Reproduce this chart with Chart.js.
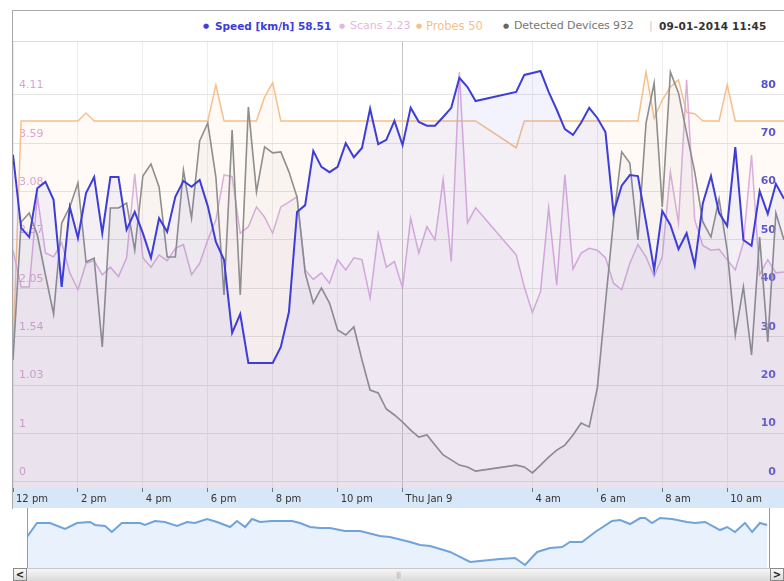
<!DOCTYPE html>
<html>
<head>
<meta charset="utf-8">
<script src="https://cdn.jsdelivr.net/npm/chart.js@4.4.0/dist/chart.umd.min.js"></script>
<style>
  html, body { margin: 0; padding: 0; background: #fff; }
  body { width: 784px; height: 581px; position: relative; overflow: hidden; font-family: 'DejaVu Sans', Verdana, sans-serif; }
  #frame { position: absolute; left: 12px; top: 10px; width: 772px; height: 498px; border-left: 1px solid #a8a8a8; border-top: 1px solid #a8a8a8; }
  #header { position: absolute; left: 13px; top: 11px; width: 771px; height: 30px; border-bottom: 1px solid #dcdcdc; }
  .h { position: absolute; top: 19px; line-height: 14px; white-space: nowrap; font-size: 11px; }
  .dot { position: absolute; top: 20px; line-height: 12px; font-size: 7px; }
  #main { position: absolute; left: 13px; top: 42px; }
  #nav { position: absolute; left: 27px; top: 508px; }
  #navFrame { position: absolute; left: 27px; top: 508px; width: 743px; height: 60px; box-sizing: border-box; border-left: 1px solid #9a9a9a; border-right: 1px solid #9a9a9a; }
  #scroll { position: absolute; left: 13px; top: 568px; width: 771px; height: 13px; box-sizing: border-box; border-top: 1px solid #c8c8c8; background: linear-gradient(#f6f6f6, #dadada); }
  .btn { position: absolute; top: 568px; width: 14px; height: 13px; box-sizing: border-box; border: 1px solid #8a8a8a; background: linear-gradient(#fafafa, #dcdcdc); font: bold 10px 'DejaVu Sans', sans-serif; line-height: 11px; text-align: center; color: #222; }
  #grip { position: absolute; left: 396px; top: 571px; font-size: 7px; color: #b0b0b0; letter-spacing: -1px; }
</style>
</head>
<body>
<div id="frame"></div>
<div id="header"></div>
<span class="dot" style="left:203px;color:#3d3dd9">&#9679;</span>
<b class="h" style="left:215px;color:#3d3dd9;font-size:10.5px">Speed [km/h] 58.51</b>
<span class="dot" style="left:339px;color:#e2b6e2">&#9679;</span>
<span class="h" style="left:350px;color:#e2b6e2">Scans 2.23</span>
<span class="dot" style="left:416px;color:#f6c08c">&#9679;</span>
<span class="h" style="left:426px;color:#f6c08c;font-size:11.5px">Probes 50</span>
<span class="dot" style="left:503px;color:#666">&#9679;</span>
<span class="h" style="left:514px;color:#777;font-size:11px;letter-spacing:-0.1px">Detected Devices 932</span>
<span class="h" style="left:649px;color:#c8c8c8">|</span>
<b class="h" style="left:659px;color:#333;font-size:10.5px;letter-spacing:0.2px">09-01-2014 11:45</b>
<canvas id="main" width="771" height="466"></canvas>
<canvas id="nav" width="742" height="60"></canvas>
<div id="navFrame"></div>
<div id="scroll"></div>
<div class="btn" style="left:13px">&lt;</div>
<div class="btn" style="left:770px">&gt;</div>
<div id="grip">|||</div>
<script>
// 15 minute samples, 8 Jan 12:00 -> 9 Jan 11:45
const times = Array.from({ length: 96 }, (_, i) => {
  const m = 12 * 60 + 15 * i;
  return String(Math.floor(m / 60) % 24).padStart(2, '0') + ':' + String(m % 60).padStart(2, '0');
});

const tickTimes = ['12:00', '14:00', '16:00', '18:00', '20:00', '22:00', '00:00', '04:00', '06:00', '08:00', '10:00'];
const tickLabels = ['12 pm', '2 pm', '4 pm', '6 pm', '8 pm', '10 pm', 'Thu Jan 9', '4 am', '6 am', '8 am', '10 am'];

const speedTicks = [0, 10, 20, 30, 40, 50, 60, 70, 80];
const scanTickValues = [0, 0.51, 1.03, 1.54, 2.05, 2.57, 3.08, 3.59, 4.11];
const scanTickLabels = ['0', '1', '1.03', '1.54', '2.05', '2.57', '3.08', '3.59', '4.11'];

const speed = [
  67.6, 52.5, 50.6, 60.7, 62.0, 58.3, 40.3, 56.8, 50.4, 59.7,
  63.0, 51.4, 63.0, 63.0, 52.1, 55.8, 51.4, 46.3, 54.5, 51.7,
  58.9, 62.2, 61.0, 62.4, 57.0, 49.6, 45.9, 30.8, 34.7, 24.6,
  24.6, 24.6, 24.6, 27.9, 35.1, 55.8, 57.2, 68.4, 65.1, 64.0,
  65.1, 70.0, 67.1, 69.0, 77.1, 69.8, 70.7, 74.6, 69.6, 77.3,
  74.4, 73.6, 73.6, 75.4, 77.3, 83.5, 81.6, 78.7, null, null,
  null, null, 80.6, 84.1, 84.5, 84.9, 80.6, 76.9, 72.9, 71.7,
  74.2, 77.3, 75.2, 72.3, 55.6, 61.2, 63.4, 63.2, 53.7, 43.8,
  56.0, 53.1, 48.1, 51.4, 44.8, 57.6, 63.2, 55.6, 52.9, 69.2,
  50.0, 48.8, 60.1, 55.4, 61.6, 58.51
];

const scans = [
  2.46, 2.07, 2.07, 3.03, 2.43, 2.39, 2.54, 2.22, 2.04, 2.32,
  2.35, 2.20, 2.28, 2.18, 2.38, 3.27, 2.38, 2.28, 2.41, 2.35,
  2.48, 2.52, 2.20, 2.32, 2.57, 2.78, 3.26, 3.24, 2.64, 2.71,
  2.92, 2.81, 2.64, 2.92, 2.97, 3.03, 2.25, 2.15, 2.22, 2.11,
  2.36, 2.25, 2.38, 2.36, 1.95, 2.64, 2.28, 2.34, 2.06, 2.80,
  2.43, 2.71, 2.57, 3.21, 2.34, 4.35, 2.75, 2.91, null, null,
  null, null, 2.41, 2.07, 1.80, 2.02, 2.91, 2.09, 3.26, 2.26,
  2.43, 2.48, 2.46, 2.38, 2.11, 2.04, 2.32, 2.52, 2.39, 2.18,
  2.39, 3.29, 2.75, 4.27, 2.78, 2.51, 2.46, 2.47, 2.36, 2.25,
  2.54, 3.47, 2.20, 2.36, 2.22, 2.23
];

const probes = [
  18, 50, 50, 50, 50, 50, 50, 50, 50, 51.1,
  50, 50, 50, 50, 50, 50, 50, 50, 50, 50,
  50, 50, 50, 50, 50, 55.0, 50, 50, 50, 50,
  50, 53.3, 55.3, 50, 50, 50, 50, 50, 50, 50,
  50, 50, 50, 50, 50, 50, 50, 50, 50, 50,
  50, 50, 50, 50, 50, 50, 50, 50, null, null,
  null, null, 46.3, 50, 50, 50, 50, 50, 50, 50,
  50, 50, 50, 50, 50, 50, 50, 50, 56.8, 50.4,
  52.9, 54.7, 55.7, 51.2, 51.0, 50, 50, 50, 55.0, 50,
  50, 50, 50, 50, 50, 50
];

const devices = [
  470, 1001, 1036, 951, 797, 647, 997, 1059, 1151, 847,
  862, 520, 1055, 1055, 1074, 893, 1178, 1224, 1136, 866,
  866, 1201, 1016, 1313, 1382, 1174, 720, 1355, 720, 1444,
  1117, 1290, 1267, 1271, 1194, 1097, 805, 689, 747, 689,
  585, 566, 597, 470, 354, 343, 281, 258, 231, 200,
  173, 181, 142, 104, 85, 65, 58, 42, null, null,
  null, null, 65, 58, 35, 65, 96, 123, 142, 181,
  227, 212, 362, 689, 1009, 1271, 1228, 932, 1382, 1536,
  1059, 1579, 1498, 1344, 1194, 1001, 943, 1090, 893, 566,
  751, 489, 943, 539, 1036, 932
];

// navigator overview (hours since 12 pm, relative level)
const navTimes = [
  0.00, 0.32, 0.74, 1.22, 1.60, 2.02, 2.18, 2.50, 2.72, 3.04,
  3.62, 3.78, 4.10, 4.42, 4.81, 5.13, 5.38, 5.77, 6.09, 6.51,
  6.73, 6.99, 7.21, 7.47, 7.85, 8.49, 8.75, 9.07, 9.39, 9.71,
  10.19, 10.67, 11.31, 11.63, 12.28, 12.60, 12.92, 13.56, 14.20, 14.52,
  15.16, 15.64, 15.96, 16.35, 16.76, 17.15, 17.40, 17.79, 18.21, 18.75,
  19.01, 19.33, 19.65, 19.81, 20.03, 20.29, 20.67, 21.15, 21.41, 21.73,
  22.21, 22.44, 22.69, 23.01, 23.24, 23.49, 23.72
];
const navValues = [
  51.7, 75, 75, 65, 75, 76.7, 71.7, 70, 60, 75,
  75, 71.7, 78.3, 76.7, 70, 76.7, 75, 81.7, 76.7, 68.3,
  78.3, 68.3, 81.7, 76.7, 78.3, 78.3, 75, 68.3, 66.7, 66.7,
  61.7, 61.7, 53.3, 51.7, 43.3, 38.3, 36.7, 26.7, 10, 11.7,
  15, 16.7, 5, 26.7, 33.3, 35, 43.3, 43.3, 60, 78.3,
  80, 73.3, 83.3, 83.3, 75, 83.3, 81.7, 76.7, 75, 76.7,
  63.3, 68.3, 60, 75, 60, 75, 71.7
];

const bandPlugin = {
  id: 'band',
  beforeDraw(chart) {
    const { ctx, chartArea } = chart;
    ctx.save();
    ctx.fillStyle = '#d8e7f7';
    ctx.fillRect(0, chartArea.bottom, chart.width, chart.height - chartArea.bottom);
    ctx.restore();
  }
};

// keep the plot area flush with the canvas edges
function noPad(axis) {
  axis.paddingTop = 0;
  axis.paddingBottom = 0;
  axis.paddingLeft = 0;
  axis.paddingRight = 0;
}

new Chart(document.getElementById('main'), {
  type: 'line',
  data: {
    labels: times,
    datasets: [
      { label: 'Speed [km/h]', data: speed, yAxisID: 'ySpeed', borderColor: '#3d3dd9', backgroundColor: 'rgba(90,90,225,0.07)', borderWidth: 2, fill: 'start', order: 0 },
      { label: 'Detected Devices', data: devices, yAxisID: 'yDevices', borderColor: '#8e8e8e', backgroundColor: 'rgba(140,140,140,0.05)', borderWidth: 1.6, fill: 'start', order: 1 },
      { label: 'Scans', data: scans, yAxisID: 'yScans', borderColor: '#dbaedb', backgroundColor: 'rgba(205,150,215,0.08)', borderWidth: 1.5, fill: 'start', order: 2 },
      { label: 'Probes', data: probes, yAxisID: 'yProbes', borderColor: '#f7bf8a', backgroundColor: 'rgba(250,185,120,0.07)', borderWidth: 1.5, fill: 'start', order: 3 }
    ]
  },
  options: {
    responsive: false,
    animation: false,
    spanGaps: true,
    layout: { padding: 0 },
    elements: { point: { radius: 0 }, line: { tension: 0 } },
    plugins: { legend: { display: false }, tooltip: { enabled: false } },
    scales: {
      x: {
        type: 'category',
        offset: false,
        border: { display: false },
        grid: {
          color: ctx => (ctx.tick && times[ctx.tick.value] === '00:00') ? '#c4c4c4' : '#ededed',
          tickLength: 4,
          tickColor: '#777'
        },
        ticks: {
          autoSkip: false,
          maxRotation: 0,
          align: 'start',
          labelOffset: 3,
          padding: 1,
          color: '#333',
          font: { family: 'DejaVu Sans', size: 10 },
          callback: function (value, index) {
            const k = tickTimes.indexOf(times[index]);
            return k >= 0 ? tickLabels[k] : null;
          }
        },
        afterFit: axis => { axis.height = 20; noPad(axis); }
      },
      ySpeed: {
        position: 'right',
        min: -1.24,
        max: 90.9,
        border: { display: false },
        grid: { color: '#e4e4e4', drawTicks: false },
        afterBuildTicks: axis => { axis.ticks = speedTicks.map(v => ({ value: v })); },
        ticks: {
          mirror: true,
          padding: -8,
          labelOffset: -10,
          color: '#5252d6',
          font: { family: 'DejaVu Sans', size: 11, weight: 'bold' }
        },
        afterFit: axis => { axis.width = 0; noPad(axis); }
      },
      yScans: {
        position: 'left',
        min: -0.0637,
        max: 4.670,
        border: { display: false },
        grid: { display: false },
        afterBuildTicks: axis => { axis.ticks = scanTickValues.map(v => ({ value: v })); },
        ticks: {
          mirror: true,
          padding: 6,
          labelOffset: -10,
          color: '#d7a3d7',
          font: { family: 'DejaVu Sans', size: 11 },
          callback: (value, index) => scanTickLabels[index]
        },
        afterFit: axis => { axis.width = 0; noPad(axis); }
      },
      yProbes: { display: false, min: -0.83, max: 60.94 },
      yDevices: { display: false, min: -23.1, max: 1694 }
    }
  },
  plugins: [bandPlugin]
});

new Chart(document.getElementById('nav'), {
  type: 'line',
  data: {
    datasets: [{
      data: navTimes.map((t, i) => ({ x: t, y: navValues[i] })),
      borderColor: '#6fa3dc',
      backgroundColor: '#e9f2fc',
      borderWidth: 2,
      fill: 'start',
      pointRadius: 0,
      tension: 0
    }]
  },
  options: {
    responsive: false,
    animation: false,
    layout: { padding: 0 },
    plugins: { legend: { display: false }, tooltip: { enabled: false } },
    scales: {
      x: { type: 'linear', display: false, min: 0, max: 23.78 },
      y: { display: false, min: 0, max: 100 }
    }
  }
});
</script>
</body>
</html>
